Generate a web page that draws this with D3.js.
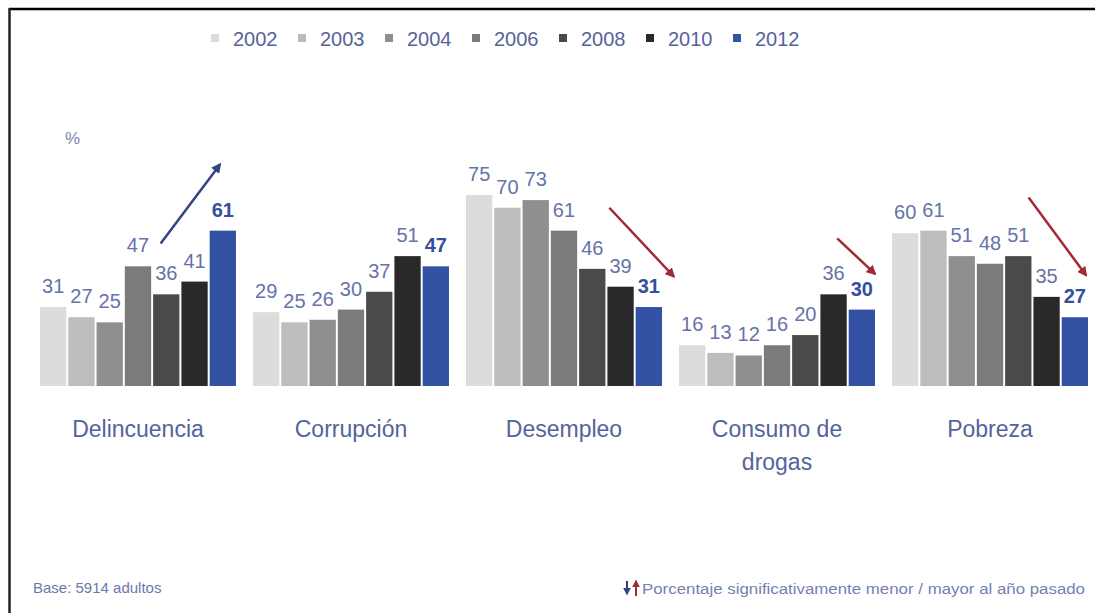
<!DOCTYPE html>
<html>
<head>
<meta charset="utf-8">
<script src="https://cdn.jsdelivr.net/npm/d3@7"></script>
<style>
  html, body { margin: 0; padding: 0; background: #fff; }
  svg { display: block; font-family: "Liberation Sans", Arial, sans-serif; }
</style>
</head>
<body>
<svg id="chart" width="1095" height="613"></svg>
<script>
// ---- data ----
const categories = ["Delincuencia", "Corrupción", "Desempleo", "Consumo de drogas", "Pobreza"];
const categoryLines = [["Delincuencia"], ["Corrupción"], ["Desempleo"], ["Consumo de", "drogas"], ["Pobreza"]];
const years = ["2002", "2003", "2004", "2006", "2008", "2010", "2012"];
const v2002 = [31, 29, 75, 16, 60];
const v2003 = [27, 25, 70, 13, 61];
const v2004 = [25, 26, 73, 12, 51];
const v2006 = [47, 30, 61, 16, 48];
const v2008 = [36, 37, 46, 20, 51];
const v2010 = [41, 51, 39, 36, 35];
const v2012 = [61, 47, 31, 30, 27];
const seriesValues = [v2002, v2003, v2004, v2006, v2008, v2010, v2012];
const yearColors = ["#dcdcdc", "#bdbdbd", "#8f8f8f", "#7b7b7b", "#4a4a4a", "#292929", "#3352a3"];
// trend arrows: position in bar-index units within the group, value units
const arrowCats = ["Delincuencia", "Desempleo", "Consumo de drogas", "Pobreza"];
const arrowFrom = [[4.31, 56], [5.12, 70], [5.65, 58], [4.88, 74]];
const arrowTo = [[6.43, 87], [7.42, 43], [7.0, 44], [6.93, 43.5]];
const arrowKind = ["up", "down", "down", "down"];

// ---- layout ----
const svg = d3.select("#chart");
const textColor = "#56639b";

const x0 = d3.scaleBand().domain(categories).range([40, 1088]).paddingInner(0.08).paddingOuter(0);
const x1 = d3.scaleBand().domain(years).range([0, x0.bandwidth()]).paddingInner(0.07).paddingOuter(0);
const xi = d3.scaleLinear().domain([0, years.length]).range([0, x0.bandwidth()]);
const y = d3.scaleLinear().domain([0, 75]).range([386, 195]);

// frame (top & left lines)
svg.append("line").attr("x1", 9).attr("x2", 1095).attr("y1", 9).attr("y2", 9)
  .attr("stroke", "#000").attr("stroke-width", 2.5);
svg.append("line").attr("x1", 9.5).attr("x2", 9.5).attr("y1", 8).attr("y2", 613)
  .attr("stroke", "#222").attr("stroke-width", 2.5);

// legend
const legend = svg.append("g");
years.forEach((yr, i) => {
  const lx = 215 + i * 87;
  legend.append("rect").attr("x", lx - 4).attr("y", 34).attr("width", 8).attr("height", 8)
    .attr("fill", yearColors[i]);
  legend.append("text").attr("x", lx + 18).attr("y", 45.5).attr("font-size", 20)
    .attr("fill", textColor).text(yr);
});

// percent sign
svg.append("text").attr("x", 65).attr("y", 144).attr("font-size", 17)
  .attr("fill", "#7a86b4").text("%");

// bars
const groups = svg.append("g").selectAll("g").data(categories).join("g")
  .attr("transform", d => `translate(${x0(d)},0)`);

groups.each(function(cat, ci) {
  const g = d3.select(this);
  years.forEach((yr, si) => {
    const v = seriesValues[si][ci];
    g.append("rect")
      .attr("x", x1(yr)).attr("width", x1.bandwidth())
      .attr("y", y(v)).attr("height", y(0) - y(v))
      .attr("fill", yearColors[si]);
    const last = si === years.length - 1;
    g.append("text")
      .attr("x", x1(yr) + x1.bandwidth() / 2)
      .attr("y", y(v) - 14)
      .attr("text-anchor", "middle")
      .attr("font-size", 20)
      .attr("font-weight", last ? "bold" : "normal")
      .attr("fill", last ? "#34509c" : "#6573a8")
      .text(v);
  });
  // category label
  categoryLines[ci].forEach((line, li) => {
    g.append("text")
      .attr("x", x0.bandwidth() / 2)
      .attr("y", 437 + li * 33)
      .attr("text-anchor", "middle")
      .attr("font-size", 23)
      .attr("fill", textColor)
      .text(line);
  });
});

// arrow markers
const defs = svg.append("defs");
[["up", "#34447e"], ["down", "#a12a34"]].forEach(([k, c]) => {
  defs.append("marker").attr("id", "arr-" + k)
    .attr("viewBox", "0 0 10 10").attr("refX", 8).attr("refY", 5)
    .attr("markerWidth", 4).attr("markerHeight", 4).attr("orient", "auto")
    .append("path").attr("d", "M0,0 L10,5 L0,10 z").attr("fill", c);
});
arrowCats.forEach((cat, i) => {
  const gx = x0(cat);
  const c = arrowKind[i] === "up" ? "#34447e" : "#a12a34";
  svg.append("line")
    .attr("x1", gx + xi(arrowFrom[i][0])).attr("y1", y(arrowFrom[i][1]))
    .attr("x2", gx + xi(arrowTo[i][0])).attr("y2", y(arrowTo[i][1]))
    .attr("stroke", c).attr("stroke-width", 2.5)
    .attr("marker-end", `url(#arr-${arrowKind[i]})`);
});

// footer
svg.append("text").attr("x", 33).attr("y", 593).attr("font-size", 15)
  .attr("fill", "#6c78ab").text("Base: 5914 adultos");

// footnote arrows
svg.append("line").attr("x1", 627).attr("x2", 627).attr("y1", 581).attr("y2", 594)
  .attr("stroke", "#2f3f7a").attr("stroke-width", 2).attr("marker-end", "url(#arr-up)");
svg.append("line").attr("x1", 636).attr("x2", 636).attr("y1", 596).attr("y2", 581)
  .attr("stroke", "#a12a34").attr("stroke-width", 2).attr("marker-end", "url(#arr-down)");
svg.append("text").attr("x", 642).attr("y", 594).attr("font-size", 14)
  .attr("textLength", 443).attr("lengthAdjust", "spacingAndGlyphs")
  .attr("fill", "#7480b2").text("Porcentaje significativamente menor / mayor al año pasado");
</script>
</body>
</html>
